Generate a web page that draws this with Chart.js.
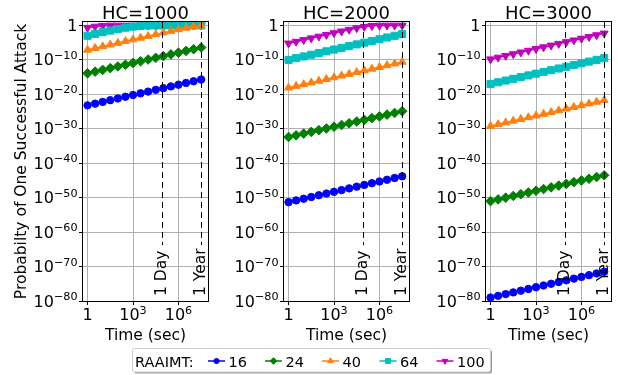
<!DOCTYPE html>
<html><head><meta charset="utf-8">
<script src="https://cdn.jsdelivr.net/npm/chart.js@4/dist/chart.umd.min.js"></script>
<style>
html,body{margin:0;padding:0;background:#fff;}
#wrap{position:relative;width:618px;height:375px;overflow:hidden;background:#fff;}
canvas{position:absolute;left:0;top:0;}
</style></head><body>
<div id="wrap">
<canvas id="c1" width="618" height="375"></canvas>
<canvas id="c2" width="618" height="375"></canvas>
<canvas id="c3" width="618" height="375"></canvas>
</div>
<script>
// ---------------- data ----------------
const panelTitles = ['HC=1000', 'HC=2000', 'HC=3000'];
const seriesLabels = ['16', '24', '40', '64', '100'];
const legendTitle = 'RAAIMT:';
const timeSec = [1, 3.162, 10, 31.62, 100, 316.2, 1000, 3162, 10000, 31620, 100000, 316200, 1000000, 3162000, 10000000, 31620000];
const xTickValues = [1, 1000, 1000000];
const yTickExponents = [-80, -70, -60, -50, -40, -30, -20, -10, 0];
const markerLines = [{value: 86400, label: '1 Day'}, {value: 31536000, label: '1 Year'}];

// log10 of probability
const hc1000_r16  = [-23.2,-22.7,-22.2,-21.7,-21.2,-20.7,-20.2,-19.7,-19.2,-18.7,-18.2,-17.7,-17.2,-16.7,-16.2,-15.7];
const hc1000_r24  = [-13.9,-13.4,-12.9,-12.4,-11.9,-11.4,-10.9,-10.4,-9.9,-9.4,-8.9,-8.4,-7.9,-7.4,-6.9,-6.4];
const hc1000_r40  = [-7.1,-6.6,-6.1,-5.6,-5.1,-4.6,-4.1,-3.6,-3.1,-2.6,-2.1,-1.62,-1.15,-0.7,-0.3,-0.05];
const hc1000_r64  = [-3.0,-2.45,-1.95,-1.5,-1.05,-0.65,-0.35,-0.12,-0.03,0,0,0,0,0,0,0];
const hc1000_r100 = [-0.65,-0.3,-0.08,-0.01,0,0,0,0,0,0,0,0,0,0,0,0];

const hc2000_r16  = [-51.3,-50.8,-50.3,-49.8,-49.3,-48.8,-48.3,-47.8,-47.3,-46.8,-46.3,-45.8,-45.3,-44.8,-44.3,-43.8];
const hc2000_r24  = [-32.4,-31.9,-31.4,-30.9,-30.4,-29.9,-29.4,-28.9,-28.4,-27.9,-27.4,-26.9,-26.4,-25.9,-25.4,-24.9];
const hc2000_r40  = [-18.1,-17.6,-17.1,-16.6,-16.1,-15.6,-15.1,-14.6,-14.1,-13.6,-13.1,-12.6,-12.1,-11.6,-11.1,-10.6];
const hc2000_r64  = [-10.0,-9.5,-9.0,-8.5,-8.0,-7.5,-7.0,-6.5,-6.0,-5.5,-5.0,-4.5,-4.0,-3.5,-3.0,-2.5];
const hc2000_r100 = [-5.2,-4.7,-4.2,-3.7,-3.2,-2.7,-2.2,-1.7,-1.22,-0.76,-0.36,-0.1,-0.01,0,0,0];

const hc3000_r16  = [-79.0,-78.5,-78.0,-77.5,-77.0,-76.5,-76.0,-75.5,-75.0,-74.5,-74.0,-73.5,-73.0,-72.5,-72.0,-71.5];
const hc3000_r24  = [-51.0,-50.5,-50.0,-49.5,-49.0,-48.5,-48.0,-47.5,-47.0,-46.5,-46.0,-45.5,-45.0,-44.5,-44.0,-43.5];
const hc3000_r40  = [-29.2,-28.7,-28.2,-27.7,-27.2,-26.7,-26.2,-25.7,-25.2,-24.7,-24.2,-23.7,-23.2,-22.7,-22.2,-21.7];
const hc3000_r64  = [-17.0,-16.5,-16.0,-15.5,-15.0,-14.5,-14.0,-13.5,-13.0,-12.5,-12.0,-11.5,-11.0,-10.5,-10.0,-9.5];
const hc3000_r100 = [-9.8,-9.3,-8.8,-8.3,-7.8,-7.3,-6.8,-6.3,-5.8,-5.3,-4.8,-4.3,-3.8,-3.3,-2.8,-2.3];

const panelSeries = [
  [hc1000_r16, hc1000_r24, hc1000_r40, hc1000_r64, hc1000_r100],
  [hc2000_r16, hc2000_r24, hc2000_r40, hc2000_r64, hc2000_r100],
  [hc3000_r16, hc3000_r24, hc3000_r40, hc3000_r64, hc3000_r100]
];

// ---------------- styles ----------------
const colors = ['#0000ff', '#008000', '#ff7f0e', '#00bfbf', '#bf00bf'];
const markers = [
  {style: 'circle', r: 3.7, rot: 0},
  {style: 'rectRot', r: 4.8, rot: 0},
  {style: 'triangle', r: 4.6, rot: 0},
  {style: 'rect', r: 5.0, rot: 0},
  {style: 'triangle', r: 4.6, rot: 180}
];
const panels = [
  {left: 83, right: 208},
  {left: 284, right: 409},
  {left: 486, right: 611}
];
const plotTop = 22, plotBottom = 301;
const FONT = '"DejaVu Sans", "Liberation Sans", sans-serif';

function drawPow(ctx, e, x, y, align) {
  // y = baseline of the main text
  ctx.textBaseline = 'alphabetic';
  if (e === 0) {
    ctx.font = '16px ' + FONT;
    ctx.textAlign = align === 'right' ? 'right' : 'center';
    ctx.fillText('1', x, y);
    return;
  }
  const base = '10';
  const sup = (e < 0 ? '\u2212' : '') + Math.abs(e);
  ctx.font = '16px ' + FONT;
  const w1 = ctx.measureText(base).width;
  ctx.font = '11.2px ' + FONT;
  const w2 = ctx.measureText(sup).width;
  const x0 = align === 'right' ? x - w1 - w2 : x - (w1 + w2) / 2;
  ctx.textAlign = 'left';
  ctx.font = '16px ' + FONT;
  ctx.fillText(base, x0, y);
  ctx.font = '11.2px ' + FONT;
  ctx.fillText(sup, x0 + w1, y - 6.5);
}

function drawMarker(ctx, idx, x, y, r) {
  const m = markers[idx];
  ctx.save();
  ctx.fillStyle = colors[idx];
  ctx.strokeStyle = colors[idx];
  ctx.lineWidth = 1;
  Chart.helpers.drawPoint(ctx, {pointStyle: m.style, radius: r, rotation: m.rot, borderWidth: 1}, x, y);
  ctx.restore();
}

function makeDecor(pi) {
  return {
    id: 'decor' + pi,
    afterDraw(chart) {
      const ctx = chart.ctx;
      const a = chart.chartArea;
      const xs = chart.scales.x, ys = chart.scales.y;
      ctx.save();
      ctx.fillStyle = '#000';
      // reference lines
      ctx.strokeStyle = '#000';
      ctx.lineWidth = 1;
      ctx.setLineDash([6, 4]);
      markerLines.forEach(ml => {
        const px = Math.round(xs.getPixelForValue(ml.value)) + 0.5;
        ctx.beginPath();
        ctx.moveTo(px, a.top);
        ctx.lineTo(px, a.bottom - 0.2 * (a.bottom - a.top));
        ctx.stroke();
      });
      ctx.setLineDash([]);
      markerLines.forEach(ml => {
        const px = xs.getPixelForValue(ml.value);
        ctx.save();
        ctx.translate(px, a.bottom - 5);
        ctx.rotate(-Math.PI / 2);
        ctx.font = '15.5px ' + FONT;
        ctx.textAlign = 'left';
        ctx.textBaseline = 'middle';
        ctx.fillText(ml.label, 0, 0);
        ctx.restore();
      });
      // spines
      ctx.strokeStyle = '#000';
      ctx.lineWidth = 1;
      ctx.strokeRect(Math.round(a.left) - 0.5, Math.round(a.top) - 0.5, Math.round(a.right - a.left) + 1, Math.round(a.bottom - a.top) + 1);
      // y tick labels
      ys.ticks.forEach(t => {
        const e = Math.round(Math.log10(t.value));
        drawPow(ctx, e, a.left - 5.5, ys.getPixelForValue(t.value) + 5.5, 'right');
      });
      // x tick labels
      xs.ticks.forEach(t => {
        const e = Math.round(Math.log10(t.value));
        drawPow(ctx, e, xs.getPixelForValue(t.value), 320, 'center');
      });
      // title
      ctx.font = '18px ' + FONT;
      ctx.textAlign = 'center';
      ctx.textBaseline = 'alphabetic';
      ctx.fillText(panelTitles[pi], (a.left + a.right) / 2, 18.5);
      // x title
      ctx.font = '15.5px ' + FONT;
      ctx.fillText('Time (sec)', (a.left + a.right) / 2, 340);
      if (pi === 0) {
        ctx.save();
        ctx.translate(21.5, (a.top + a.bottom) / 2);
        ctx.rotate(-Math.PI / 2);
        ctx.font = '15.5px ' + FONT;
        ctx.textAlign = 'center';
        ctx.textBaseline = 'middle';
        ctx.fillText('Probabilty of One Successful Attack', 0, 0);
        ctx.restore();
      }
      if (pi === 2) {
        // legend
        const L = 132, T = 348, R = 490, B = 371.5;
        ctx.fillStyle = '#9a9a9a';
        ctx.beginPath();
        ctx.roundRect(L + 2, T + 2, R - L, B - T, 2);
        ctx.fill();
        ctx.fillStyle = '#fff';
        ctx.strokeStyle = '#cccccc';
        ctx.beginPath();
        ctx.roundRect(L + 0.5, T + 0.5, R - L, B - T, 2);
        ctx.fill();
        ctx.stroke();
        ctx.fillStyle = '#000';
        ctx.font = '14.5px ' + FONT;
        ctx.textAlign = 'left';
        ctx.textBaseline = 'alphabetic';
        ctx.fillText(legendTitle, 135, 366.5);
        const lineStarts = [208, 265, 322, 379.5, 436.5];
        seriesLabels.forEach((lab, i) => {
          const x0 = lineStarts[i];
          ctx.strokeStyle = colors[i];
          ctx.lineWidth = 1.5;
          ctx.beginPath();
          ctx.moveTo(x0, 361);
          ctx.lineTo(x0 + 17, 361);
          ctx.stroke();
          drawMarker(ctx, i, x0 + 8.5, 361, i === 0 ? 2.6 : (i === 3 ? 3.6 : 3.3));
          ctx.fillStyle = '#000';
          ctx.fillText(lab, x0 + 20.5, 366.5);
        });
      }
      ctx.restore();
    }
  };
}

function buildChart(pi) {
  const p = panels[pi];
  const datasets = panelSeries[pi].map((arr, i) => ({
    label: seriesLabels[i],
    data: timeSec.map((t, k) => ({x: t, y: Math.pow(10, arr[k])})),
    borderColor: colors[i],
    backgroundColor: colors[i],
    borderWidth: 1.5,
    pointStyle: markers[i].style,
    pointRadius: markers[i].r,
    pointRotation: markers[i].rot,
    pointBorderWidth: 1,
    pointBackgroundColor: colors[i],
    pointBorderColor: colors[i],
    tension: 0,
    clip: 6
  }));
  return new Chart(document.getElementById('c' + (pi + 1)), {
    type: 'line',
    data: {datasets},
    options: {
      responsive: false,
      animation: false,
      events: [],
      layout: {padding: {left: p.left - 4, right: 618 - p.right, top: plotTop, bottom: 375 - plotBottom - 4}},
      plugins: {legend: {display: false}, tooltip: {enabled: false}},
      scales: {
        x: {
          type: 'logarithmic', position: 'bottom', bounds: 'data',
          min: Math.pow(10, -0.3), max: Math.pow(10, 7.95),
          grid: {color: '#b0b0b0', lineWidth: 1, drawTicks: true, tickLength: 4, tickColor: '#000', tickWidth: 1},
          border: {display: false},
          ticks: {display: false},
          afterBuildTicks: s => { s.ticks = xTickValues.map(v => ({value: v})); },
          afterFit: s => { s.height = 4; }
        },
        y: {
          type: 'logarithmic', position: 'left', bounds: 'data',
          min: 1e-80, max: 10,
          grid: {color: '#b0b0b0', lineWidth: 1, drawTicks: true, tickLength: 4, tickColor: '#000', tickWidth: 1},
          border: {display: false},
          ticks: {display: false},
          afterBuildTicks: s => { s.ticks = yTickExponents.map(e => ({value: Math.pow(10, e)})); },
          afterFit: s => { s.width = 4; }
        }
      }
    },
    plugins: [makeDecor(pi)]
  });
}

[0, 1, 2].forEach(buildChart);
</script>
</body></html>
